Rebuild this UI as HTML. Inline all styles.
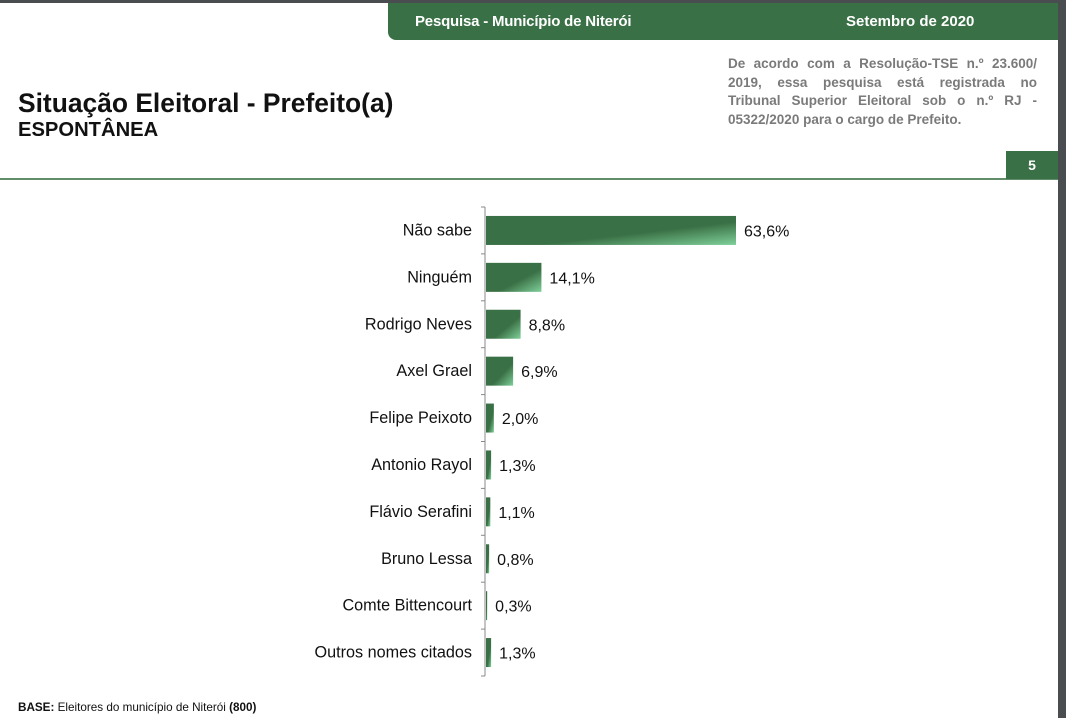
<!DOCTYPE html>
<html><head><meta charset="utf-8"><style>
body{margin:0;width:1066px;height:718px;background:#4a4d50;overflow:hidden;font-family:"Liberation Sans",sans-serif;}
#page{position:absolute;left:0;top:3px;width:1058px;height:715px;background:#fff;}
#hdr{position:absolute;left:388px;top:0;width:670px;height:37px;background:#3a7045;border-bottom-left-radius:8px;color:#fff;font-weight:bold;font-size:15px;}
.nl{text-align:justify;text-align-last:justify;white-space:nowrap;}
</style></head><body>
<div id="page">
<div id="hdr">
<span style="position:absolute;left:27px;top:10px;letter-spacing:-0.2px">Pesquisa - Município de Niterói</span>
<span style="position:absolute;left:458px;top:10px">Setembro de 2020</span>
</div>
<div style="position:absolute;left:18px;top:85px;font-size:26.4px;font-weight:bold;color:#111">Situação Eleitoral - Prefeito(a)</div>
<div style="position:absolute;left:18px;top:116px;font-size:20.2px;font-weight:bold;color:#111">ESPONTÂNEA</div>
<div style="position:absolute;left:728px;top:52px;width:309px;font-size:13.5px;font-weight:bold;color:#7a7a7a;line-height:18.5px">
<div class="nl">De acordo com a Resolução-TSE n.º 23.600/</div>
<div class="nl">2019, essa pesquisa está registrada no</div>
<div class="nl">Tribunal Superior Eleitoral sob o n.º RJ -</div>
<div>05322/2020 para o cargo de Prefeito.</div>
</div>
<div style="position:absolute;left:1006px;top:148px;width:52px;height:28px;background:#3a7045;color:#fff;font-weight:bold;font-size:14px;text-align:center;line-height:28px">5</div>
<div style="position:absolute;left:0;top:175px;width:1058px;height:2px;background:#3a7045;opacity:.8"></div>
<div style="position:absolute;left:18px;top:698px;font-size:11.7px;color:#111"><b>BASE:</b> Eleitores do município de Niterói <b>(800)</b></div>
</div>
<svg id="chart" width="1066" height="718" style="position:absolute;left:0;top:0">
<defs><linearGradient id="g" x1="0" y1="0" x2="1" y2="1"><stop offset="0.6" stop-color="#3a7045"/><stop offset="1" stop-color="#7fd09a"/></linearGradient></defs>
</svg>
<script>
const categories=["Não sabe","Ninguém","Rodrigo Neves","Axel Grael","Felipe Peixoto","Antonio Rayol","Flávio Serafini","Bruno Lessa","Comte Bittencourt","Outros nomes citados"];
const values=[63.6,14.1,8.8,6.9,2.0,1.3,1.1,0.8,0.3,1.3];
const labels=["63,6%","14,1%","8,8%","6,9%","2,0%","1,3%","1,1%","0,8%","0,3%","1,3%"];
const svg=document.getElementById('chart');const NS="http://www.w3.org/2000/svg";
const x0=486,pxPer=250/63.6,top0=207,rowH=46.9,barH=29;
const x=v=>x0+v*pxPer;const yc=i=>top0+rowH*(i+0.5);
function mk(t,a){const e=document.createElementNS(NS,t);for(const k in a)e.setAttribute(k,a[k]);svg.appendChild(e);return e;}
const ax=mk('line',{x1:485,x2:485,y1:top0,y2:top0+rowH*10,stroke:'#888','stroke-width':1});


for(let i=0;i<=10;i++){const t=mk('line',{x1:481,x2:485,y1:top0+rowH*i,y2:top0+rowH*i,stroke:'#888'});

}
categories.forEach((c,i)=>{
const r=mk('rect',{x:x0,y:yc(i)-barH/2,width:Math.max(x(values[i])-x0,1),height:barH,fill:'url(#g)'});


const l=mk('text',{x:472,y:yc(i)+5,'text-anchor':'end','font-size':16.2,fill:'#111','font-family':'Liberation Sans'});l.textContent=c;


const v=mk('text',{x:x(values[i])+8,y:yc(i)+6,'font-size':16,fill:'#111','font-family':'Liberation Sans'});v.textContent=labels[i];


});
</script>
</body></html>
